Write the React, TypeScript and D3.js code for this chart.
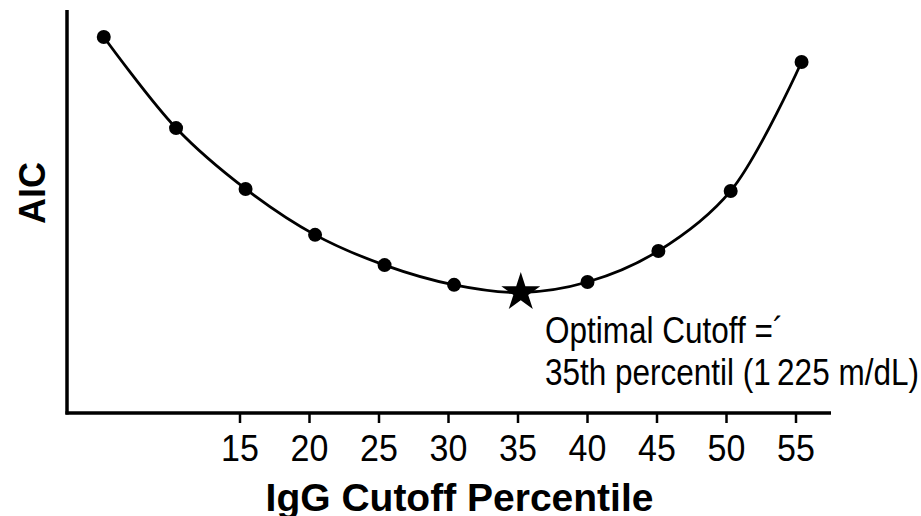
import React from "react";
import * as d3 from "d3";

const percentiles = [5.2, 10.4, 15.4, 20.4, 25.4, 30.4, 35.2, 40.0, 45.1, 50.3, 55.4];
const aic = [93.3, 70.7, 55.6, 44.2, 36.7, 31.8, 29.9, 32.5, 40.2, 55.1, 87.1];
const optimalIndex = 6;
const tickValues = [15, 20, 25, 30, 35, 40, 45, 50, 55];
const annotationLines = ["Optimal Cutoff =\u00B4", "35th percentil (1\u2009225 m/dL)"];
const xTitle = "IgG Cutoff Percentile";
const yTitle = "AIC";

const W = 921;
const H = 516;
const FONT = "'Liberation Sans', Arial, Helvetica, sans-serif";

export default function App() {
  const x = d3.scaleLinear().domain([15, 55]).range([240, 796]);
  const y = d3.scaleLinear().domain([0, 100]).range([413, 10]);
  const pts = percentiles.map((p, i) => [x(p), y(aic[i])] as [number, number]);
  const line = d3.line().curve(d3.curveCatmullRom.alpha(0.5))(pts) || "";
  const star = d3.symbol().type(d3.symbolStar).size(470)() || "";
  const sx = x(percentiles[optimalIndex]);
  const sy = y(aic[optimalIndex]);

  return (
    <svg
      width={W}
      height={H}
      style={{ position: "absolute", left: 0, top: 0, background: "#fff" }}
      fontFamily={FONT}
    >
      <rect width={W} height={H} fill="#fff" />
      {/* axes */}
      <line x1={67} y1={10} x2={67} y2={414.5} stroke="#000" strokeWidth={3.5} />
      <line x1={65.5} y1={413} x2={831} y2={413} stroke="#000" strokeWidth={3.5} />
      {tickValues.map((t) => (
        <g key={t}>
          <line x1={x(t)} x2={x(t)} y1={413} y2={423} stroke="#000" strokeWidth={2.5} />
          <text
            transform={`translate(${x(t)},461) scale(1,1.08)`}
            textAnchor="middle"
            fontSize={34}
            fill="#000"
          >
            {t}
          </text>
        </g>
      ))}
      <text x={459.5} y={511} textAnchor="middle" fontSize={39} fontWeight="bold" fill="#000">
        {xTitle}
      </text>
      <text
        transform={`translate(45,193) rotate(-90)`}
        textAnchor="middle"
        fontSize={36}
        fontWeight="bold"
        fill="#000"
      >
        {yTitle}
      </text>
      {/* curve */}
      <path d={line} fill="none" stroke="#000" strokeWidth={2.8} />
      {pts.map((p, i) =>
        i === optimalIndex ? null : <circle key={i} cx={p[0]} cy={p[1]} r={7} fill="#000" />
      )}
      <path d={star} transform={`translate(${sx},${sy})`} fill="#000" />
      {annotationLines.map((s, i) => (
        <text
          key={i}
          transform={`translate(545,${343 + i * 42}) scale(1,1.2)`}
          fontSize={31.5}
          fill="#000"
        >
          {s}
        </text>
      ))}
    </svg>
  );
}
